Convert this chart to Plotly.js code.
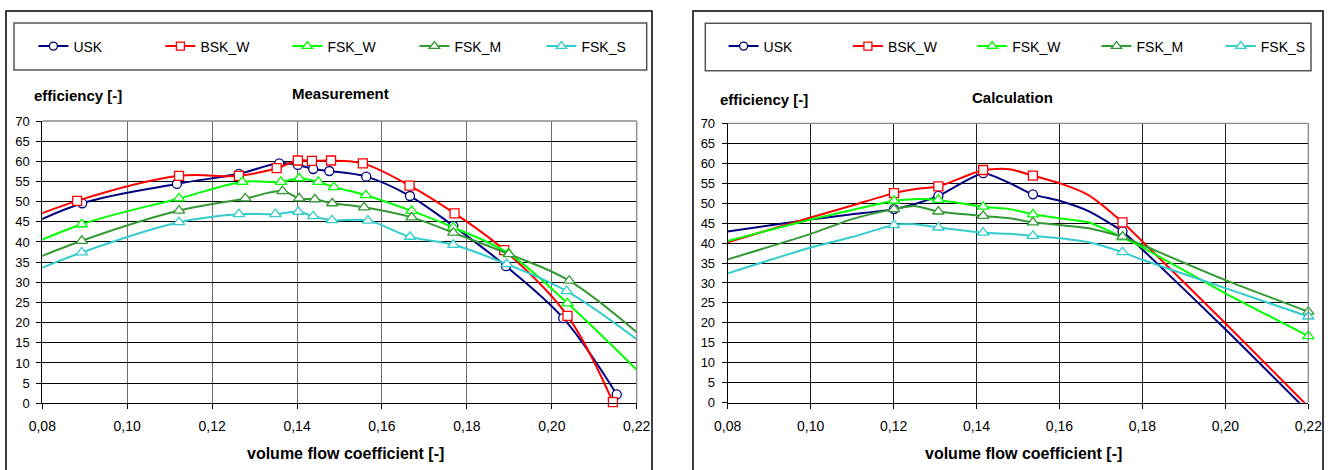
<!DOCTYPE html>
<html>
<head>
<meta charset="utf-8">
<script src="https://cdn.plot.ly/plotly-3.0.1.min.js"></script>
<style>html,body{margin:0;padding:0;background:#fff;overflow:hidden;}#chart{width:1331px;height:470px;}</style>
</head>
<body>
<div id="chart"></div>
<script>
// ---------- DATA ----------
const seriesNames = ["USK", "BSK_W", "FSK_W", "FSK_M", "FSK_S"];
const xTickVals = [0.08, 0.10, 0.12, 0.14, 0.16, 0.18, 0.20, 0.22];

// Measurement (left panel); first/last points lie outside the visible range (line continues past the edges)
const measUSK_x  = [0.070, 0.0894, 0.1117, 0.1263, 0.1358, 0.1402, 0.1438, 0.1476, 0.1563, 0.1666, 0.1768, 0.1892, 0.2027, 0.2153];
const measUSK_y  = [40.7, 49.6, 54.4, 56.9, 59.5, 59.1, 58.1, 57.6, 56.2, 51.4, 44.0, 34.0, 21.1, 2.2];
const measBSKW_x = [0.070, 0.0882, 0.1122, 0.1263, 0.1352, 0.1402, 0.1435, 0.1480, 0.1555, 0.1665, 0.1771, 0.1888, 0.2037, 0.2144];
const measBSKW_y = [42.9, 50.2, 56.4, 56.4, 58.3, 60.2, 60.1, 60.2, 59.5, 54.0, 47.1, 38.0, 21.7, 0.3];
const measFSKW_x = [0.070, 0.0893, 0.1122, 0.1271, 0.1362, 0.1405, 0.1450, 0.1487, 0.1562, 0.1670, 0.1768, 0.1898, 0.2037, 0.225];
const measFSKW_y = [35.9, 44.4, 50.8, 54.9, 54.9, 55.8, 54.9, 53.6, 51.6, 47.7, 43.6, 37.2, 24.8, 3.1];
const measFSKM_x = [0.070, 0.0893, 0.1122, 0.1278, 0.1366, 0.1405, 0.1442, 0.1483, 0.1558, 0.1670, 0.1768, 0.1899, 0.2041, 0.225];
const measFSKM_y = [32.2, 40.3, 47.8, 50.8, 52.6, 50.8, 50.6, 49.6, 48.6, 46.1, 42.3, 37.0, 30.4, 13.1];
const measFSKS_x = [0.070, 0.0893, 0.1122, 0.1263, 0.1349, 0.1403, 0.1438, 0.1482, 0.1567, 0.1666, 0.1768, 0.1894, 0.2035, 0.225];
const measFSKS_y = [29.3, 37.4, 44.9, 46.9, 46.9, 47.5, 46.4, 45.4, 45.3, 41.3, 39.3, 34.5, 27.8, 11.9];

// Calculation (right panel)
const calc_x      = [0.08, 0.10, 0.11, 0.1201, 0.125, 0.1308, 0.1416, 0.148, 0.1536, 0.16, 0.167, 0.1752, 0.18, 0.20, 0.22];
const calcMarkX   = [0.1201, 0.1308, 0.1416, 0.1536, 0.1752, 0.22];
const calcUSK_y   = [42.9, 45.9, 47.2, 48.5, 49.7, 51.8, 57.5, 55.0, 52.2, 50.6, 48.0, 42.9, 38.4, 18.4, -2.3];
const calcBSKW_y  = [40.2, 46.4, 49.4, 52.5, 53.5, 54.2, 58.3, 58.5, 56.9, 55.0, 52.0, 45.2, 40.4, 19.9, -1.0];
const calcFSKW_y  = [40.5, 45.9, 48.3, 50.6, 51.0, 50.8, 49.1, 48.5, 47.2, 46.2, 45.2, 41.4, 38.9, 27.4, 16.7];
const calcFSKM_y  = [35.9, 42.3, 46.0, 48.5, 49.3, 47.9, 46.8, 46.2, 45.2, 44.5, 43.7, 41.6, 39.5, 30.7, 22.8];
const calcFSKS_y  = [32.4, 38.9, 41.5, 44.5, 44.7, 43.9, 42.6, 42.3, 41.8, 41.2, 40.2, 37.7, 35.8, 28.7, 21.6];

// ---------- STYLE ----------
const colors  = ["#000080", "#FF0000", "#00FF00", "#339933", "#33CCCC"];
const symbols = ["circle", "square", "triangle-up", "triangle-up", "triangle-up"];
const msizes  = [9, 9, 10, 10, 10];
const FONT = "Liberation Sans, Arial, sans-serif";
const W = 1331, H = 470;
const fx = p => p / W, fy = p => 1 - p / H;
const XR = [0.08, 0.22], YR = [0, 70];

const measX = [measUSK_x, measBSKW_x, measFSKW_x, measFSKM_x, measFSKS_x];
const measY = [measUSK_y, measBSKW_y, measFSKW_y, measFSKM_y, measFSKS_y];
const calcY = [calcUSK_y, calcBSKW_y, calcFSKW_y, calcFSKM_y, calcFSKS_y];

const inRange = (x, y) => x >= XR[0] - 1e-9 && x <= XR[1] + 1e-9 && y >= YR[0] && y <= YR[1];

const traces = [];
function addSeries(i, xs, ys, xa, ya, markFilter, smoothing) {
  traces.push({
    x: xs, y: ys, xaxis: xa, yaxis: ya, type: "scatter", mode: "lines",
    line: {color: colors[i], width: 2, shape: "spline", smoothing: smoothing},
    showlegend: false, hoverinfo: "skip"
  });
  const mx = [], my = [];
  xs.forEach((x, k) => { if (markFilter(x, ys[k])) { mx.push(x); my.push(ys[k]); } });
  traces.push({
    x: mx, y: my, xaxis: xa, yaxis: ya, type: "scatter", mode: "markers", cliponaxis: false,
    marker: {symbol: symbols[i], size: msizes[i], color: "#FFFFFF", line: {color: colors[i], width: 1.3}},
    showlegend: false
  });
}
for (let i = 0; i < 5; i++) {
  addSeries(i, measX[i], measY[i], "x", "y", inRange, 1);
}
for (let i = 0; i < 5; i++) {
  addSeries(i, calc_x, calcY[i], "x2", "y2",
    (x, y) => inRange(x, y) && calcMarkX.some(m => Math.abs(m - x) < 1e-6), 0.6);
}
// legend entries
[["legend", "x", "y"], ["legend2", "x2", "y2"]].forEach(([lg, xa, ya]) => {
  for (let i = 0; i < 5; i++) {
    traces.push({
      x: [null], y: [null], xaxis: xa, yaxis: ya, type: "scatter", mode: "lines+markers",
      name: seriesNames[i], legend: lg,
      line: {color: colors[i], width: 2},
      marker: {symbol: symbols[i], size: msizes[i] - 1, color: "#FFFFFF", line: {color: colors[i], width: 1.3}}
    });
  }
});

function xAxis(domain, anchor, gridcolor) {
  return {
    domain: domain, anchor: anchor, range: XR, tickvals: xTickVals, tickformat: ".2f",
    showgrid: true, gridcolor: gridcolor, gridwidth: 1, zeroline: false,
    showline: true, linecolor: "#000", linewidth: 1,
    ticks: "outside", ticklen: 5, tickcolor: "#000", ticklabelstandoff: 5,
    tickfont: {family: FONT, size: 14, color: "#000"}, fixedrange: true
  };
}
function yAxis(domain, anchor) {
  return {
    domain: domain, anchor: anchor, range: YR, dtick: 5, tick0: 0,
    showgrid: true, gridcolor: "#000", gridwidth: 1, zeroline: false,
    showline: true, linecolor: "#000", linewidth: 1,
    ticks: "outside", ticklen: 5, tickcolor: "#000", ticklabelstandoff: 4,
    tickfont: {family: FONT, size: 13, color: "#000"}, fixedrange: true
  };
}

function rectPx(x0, y0, x1, y1, color, width) {
  return {type: "rect", xref: "paper", yref: "paper", x0: fx(x0), x1: fx(x1), y0: fy(y1), y1: fy(y0),
    line: {color: color, width: width}, fillcolor: "rgba(0,0,0,0)", layer: "above"};
}
function linePx(x0, y0, x1, y1, color, width) {
  return {type: "line", xref: "paper", yref: "paper", x0: fx(x0), x1: fx(x1), y0: fy(y0), y1: fy(y1),
    line: {color: color, width: width}, layer: "above"};
}
function ann(text, xpx, ypx, anchor, size) {
  return {text: "<b>" + text + "</b>", xref: "paper", yref: "paper", x: fx(xpx), y: fy(ypx),
    xanchor: anchor, yanchor: "middle", showarrow: false, font: {family: FONT, size: size, color: "#000"}};
}
function legendCfg(xpx, entryW) {
  return {x: fx(xpx), xanchor: "left", y: fy(46.5), yanchor: "middle", orientation: "h",
    entrywidth: entryW, entrywidthmode: "pixels", bgcolor: "rgba(0,0,0,0)", borderwidth: 0,
    font: {family: FONT, size: 14, color: "#000"}, itemclick: false, itemdoubleclick: false};
}

const layout = {
  width: W, height: H, autosize: false, margin: {l: 0, r: 0, t: 0, b: 0, pad: 0, autoexpand: false},
  paper_bgcolor: "#fff", plot_bgcolor: "#fff", separators: ",.",
  font: {family: FONT, color: "#000"},
  xaxis: xAxis([fx(42.3), fx(636.7)], "y", "#6e6e6e"),
  yaxis: yAxis([fy(403.3), fy(121)], "x"),
  xaxis2: xAxis([fx(727.7), fx(1308.3)], "y2", "#222"),
  yaxis2: yAxis([fy(402.7), fy(123.3)], "x2"),
  legend: legendCfg(33.4, 82),
  legend2: legendCfg(723.6, 79.3),
  shapes: [
    rectPx(6, 11, 652, 480, "#000", 1.5),
    rectPx(693, 11, 1323, 480, "#000", 1.5),
    rectPx(14, 23, 646.7, 70, "#555", 1.5),
    rectPx(705.3, 23.3, 1311, 70.7, "#555", 1.5),
    linePx(42.3, 121, 636.7, 121, "#888", 1.3),
    linePx(636.7, 121, 636.7, 403.3, "#888", 1.3),
    linePx(727.7, 123.3, 1308.3, 123.3, "#888", 1.3),
    linePx(1308.3, 123.3, 1308.3, 402.7, "#888", 1.3)
  ],
  annotations: [
    ann("efficiency [-]", 31.7, 95, "left", 15),
    ann("Measurement", 340, 93.5, "center", 15),
    ann("volume flow coefficient [-]", 345, 453, "center", 16),
    ann("efficiency [-]", 717.8, 99, "left", 15),
    ann("Calculation", 1012, 97.5, "center", 15),
    ann("volume flow coefficient [-]", 1023, 453, "center", 16)
  ],
  showlegend: true
};

Plotly.newPlot("chart", traces, layout, {staticPlot: true, displayModeBar: false, responsive: false});
</script>
</body>
</html>
